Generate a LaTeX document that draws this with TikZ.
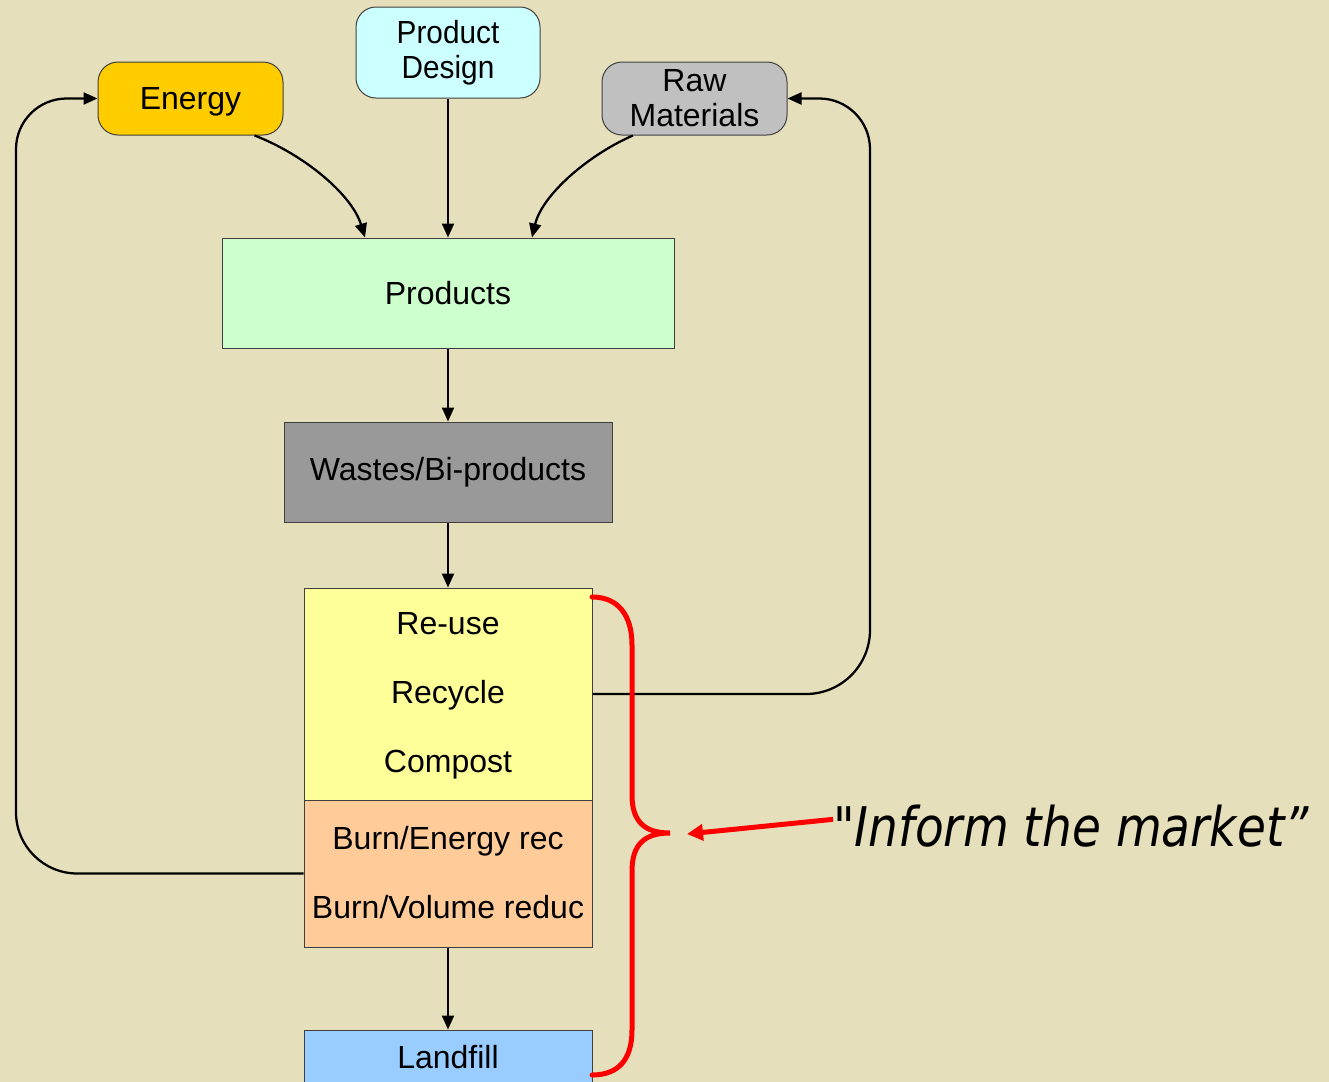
\documentclass[tikz,border=0pt]{standalone}
\usepackage{fontspec}
\setmainfont{Liberation Sans}
\newfontfamily\infont{DejaVu Sans}
\usetikzlibrary{arrows.meta,calc}
\definecolor{bg}{RGB}{230,223,187}
\definecolor{cEnergy}{RGB}{255,204,0}
\definecolor{cDesign}{RGB}{204,255,255}
\definecolor{cRaw}{RGB}{192,192,192}
\definecolor{cProd}{RGB}{204,255,204}
\definecolor{cWaste}{RGB}{153,153,153}
\definecolor{cYellow}{RGB}{255,255,153}
\definecolor{cOrange}{RGB}{255,204,153}
\definecolor{cLand}{RGB}{153,204,255}
\definecolor{cRed}{RGB}{255,0,0}
\begin{document}
\begin{tikzpicture}[x=0.75pt,y=-0.75pt,
  box/.style={draw=black!75, line width=0.75pt, inner sep=0pt, align=center,
    font=\fontsize{24}{26.25}\selectfont},
  rbox/.style={box, rounded corners=15pt},
  txt/.style={inner sep=0pt, font=\fontsize{24}{26.25}\selectfont, text depth=1.5pt},
  conn/.style={line width=1.7pt, -{Triangle[length=10.5pt,width=9pt]}},
  loopline/.style={line width=1.7pt, -{Triangle[length=10.5pt,width=9pt]}},
  redline/.style={cRed, line width=3.75pt}
]
\clip (0,0) rectangle (1329,1082);
\fill[bg] (0,0) rectangle (1329,1082);

% top nodes
\node[rbox, fill=cEnergy, minimum width=138.75pt, minimum height=54.75pt, text depth=0pt] (energy) at (190.5,98.5) {Energy};
\node[rbox, fill=cDesign, minimum width=138pt, minimum height=68.25pt] (design) at (448,52.5) {\scalebox{0.93}[1]{Product}\\\scalebox{0.93}[1]{Design}};
\node[rbox, fill=cRaw, minimum width=138.75pt, minimum height=54.75pt] (raw) at (694.5,98.5) {Raw\\Materials};

% main column
\node[box, fill=cProd, minimum width=339pt, minimum height=82.5pt] (products) at (448,293) {Products};
\node[box, fill=cWaste, minimum width=246pt, minimum height=75pt] (wastes) at (448,472) {Wastes/Bi-products};
\node[box, fill=cYellow, minimum width=216pt, minimum height=159pt] (yellow) at (448,694) {};
\node[box, fill=cOrange, minimum width=216pt, minimum height=110.25pt] (orange) at (448,873.5) {};
\node[box, fill=cLand, minimum width=216pt, minimum height=40.5pt] (landfill) at (448,1057) {Landfill};

\node[txt] (reuse) at (448,624) {Re-use};
\node[txt] (recycle) at (448,693) {Recycle};
\node[txt] (compost) at (448,762) {Compost};
\node[txt] (burnE) at (448,839) {Burn/Energy rec};
\node[txt] (burnV) at (448,908) {Burn/Volume reduc};

% connectors
\draw[conn] (design.south) -- (products.north);
\draw[conn] (energy.-30.7) .. controls (305,155) and (352,195) .. ([xshift=-62.25pt]products.north);
\draw[conn] (raw.-149) .. controls (588,155) and (542,195) .. ([xshift=63pt]products.north);
\draw[conn] (products.south) -- (wastes.north);
\draw[conn] (wastes.south) -- (yellow.north);
\draw[conn] (orange.south) -- (landfill.north);

% feedback loops
\draw[loopline] (orange.west) [rounded corners=46pt] -- (16,873.5) [rounded corners=38pt] -- (16,98.5) -- (energy.west);
\draw[loopline] (yellow.east) [rounded corners=48pt] -- (870,694) [rounded corners=38pt] -- (870,98.5) -- (raw.east);

% red brace and arrow
\coordinate (btop) at (592,597);
\coordinate (bbot) at (592,1075);
\coordinate (btip) at (670,833);
\draw[redline, line cap=round] (btop) .. controls (618,597) and (632,615) .. (632,645) -- (632,795)
  .. controls (632,822) and (645,833) .. (btip) .. controls (645,833) and (632,844) .. (632,871) -- (632,1030)
  .. controls (632,1060) and (618,1075) .. (bbot);

\node[inner sep=0pt, anchor=west, font=\infont\fontsize{41}{45}\selectfont] (inform) at (833,826)
  {\scalebox{0.86}[1]{"\itshape Inform the market”}};
\draw[redline, -{Triangle[length=12pt,width=12pt]}] ([yshift=5pt]inform.west) -- (687,834);
\end{tikzpicture}
\end{document}
